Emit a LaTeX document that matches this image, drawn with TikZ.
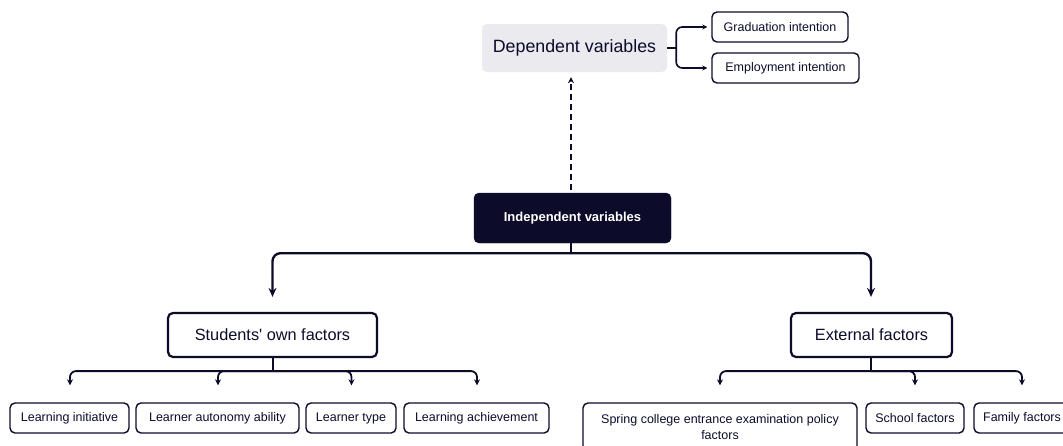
\documentclass[tikz,border=0pt]{standalone}
\usepackage{fontspec}
\setmainfont{Liberation Sans}
\usetikzlibrary{arrows.meta,calc}
\definecolor{navy}{RGB}{12,11,42}
\definecolor{lightgrey}{RGB}{235,234,238}
\begin{document}
\begin{tikzpicture}[x=1pt,y=-1pt,
  box/.style={draw=navy,rounded corners=5pt,inner sep=0pt,align=center,text=navy},
  leaf/.style={box,line width=1.4pt,minimum height=30pt,font=\fontsize{12.5}{16}\selectfont},
  mid/.style={box,line width=2.2pt,minimum height=44pt,font=\fontsize{16.3}{19}\selectfont},
  conn/.style={draw=navy,line width=1.8pt,rounded corners=6pt,-{Stealth[length=6pt,width=6pt]}},
  bigconn/.style={draw=navy,line width=2.4pt,rounded corners=8pt,-{Stealth[length=9pt,width=8pt]}},
  plain/.style={draw=navy,line width=2pt}]
\useasboundingbox (0,0) rectangle (1063,445);
\clip (0,0) rectangle (1063,445);
% top
\node[box,draw=none,fill=lightgrey,minimum width=185pt,minimum height=48pt,font=\fontsize{17.8}{20}\selectfont] (dep) at (574.5,48) {Dependent variables};
\node[leaf,minimum width=136pt] (grad) at (780,27) {Graduation intention};
\node[leaf,minimum width=147pt] (emp) at (785.5,68) {Employment intention};
\node[box,fill=navy,draw=navy,minimum width=197pt,minimum height=50pt,text=white,font=\bfseries\fontsize{13}{15}\selectfont] (ind) at (572.5,218) {Independent variables};
% middle
\node[mid,minimum width=209pt] (so) at (272.5,335) {Students\textquotesingle{} own factors};
\node[mid,minimum width=161pt] (ext) at (871.5,335) {External factors};
% leaves
\node[leaf,minimum width=119pt] (l1) at (69.5,418) {Learning initiative};
\node[leaf,minimum width=163pt] (l2) at (217.5,418) {Learner autonomy ability};
\node[leaf,minimum width=90pt] (l3) at (351,418) {Learner type};
\node[leaf,minimum width=145pt] (l4) at (476.5,418) {Learning achievement};
\node[leaf,minimum width=274pt,minimum height=48pt] (e1) at (720,427) {Spring college entrance examination policy\\factors};
\node[leaf,minimum width=98pt] (e2) at (915,418) {School factors};
\node[leaf,minimum width=96pt] (e3) at (1022,418) {Family factors};
% dependent bracket
\coordinate (bk) at ($(dep.east)+(9pt,0)$);
\draw[plain,line width=1.6pt] (dep.east) -- (bk);
\draw[conn,-{Stealth[length=5pt,width=5pt]},line width=1.6pt] (bk) |- ([xshift=-4pt]grad.west);
\draw[conn,-{Stealth[length=5pt,width=5pt]},line width=1.6pt] (bk) |- ([xshift=-4pt]emp.west);
% dashed
\draw[draw=navy,line width=1.6pt,dash pattern=on 6pt off 4pt,-{Stealth[length=6pt,width=6pt]},shorten <=3pt,shorten >=5pt] ([xshift=-1.5pt]ind.north) -- ([xshift=-1.5pt]ind.north |- dep.south);
% independent to middle
\coordinate (ib) at ($(ind.south)+(-1.5pt,-10pt)$);
\draw[draw=navy,line width=2.4pt] ([xshift=-1.5pt]ind.south) -- (ib);
\draw[bigconn,shorten >=15pt] (ib) -| (so.north);
\draw[bigconn,shorten >=15pt] (ib) -| ([xshift=-0.5pt]ext.north);
% students bus
\coordinate (sb) at ($(so.south)+(0,-13pt)$);
\draw[plain] (so.south) -- (sb);
\foreach \c in {l1,l2,l3,l4} \draw[conn,shorten >=17pt] (sb) -| ([xshift=0.5pt]\c.north);
% external bus
\coordinate (eb) at ($(ext.south)+(-0.5pt,-13pt)$);
\draw[plain] ([xshift=-0.5pt]ext.south) -- (eb);
\foreach \c in {e1,e2,e3} \draw[conn,shorten >=17pt] (eb) -| (\c.north);
\end{tikzpicture}
\end{document}
